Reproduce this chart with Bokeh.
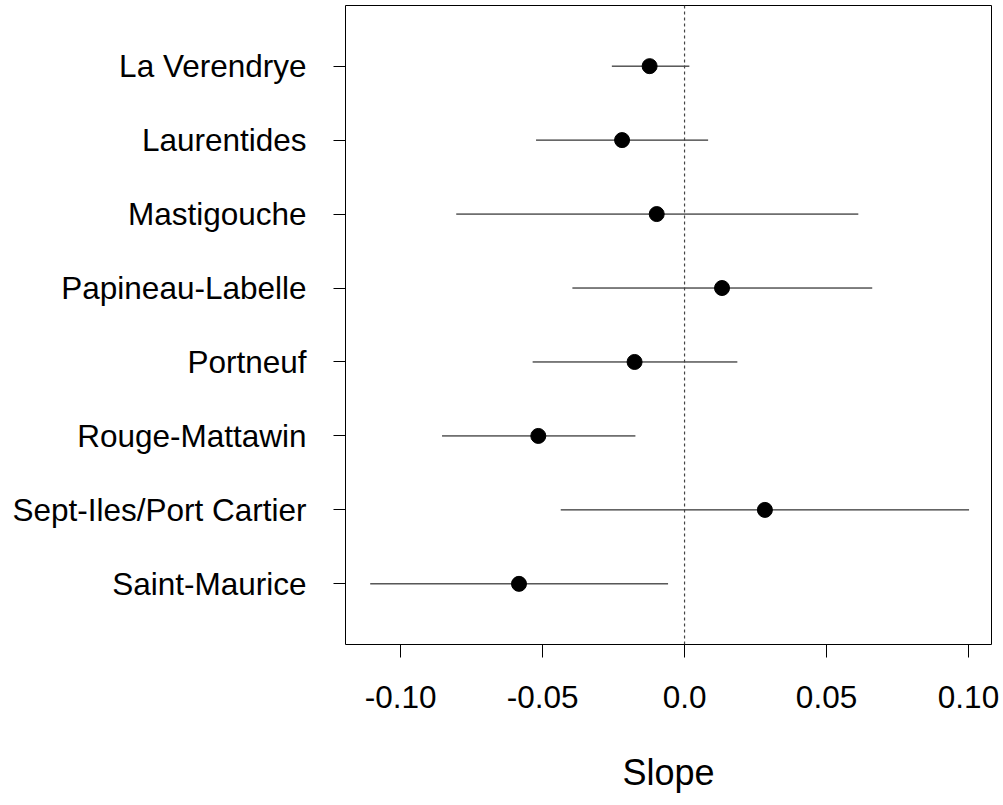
from bokeh.plotting import figure
from bokeh.models import FixedTicker, Span, ColumnDataSource, FactorRange
from bokeh.embed import file_html
from bokeh.resources import INLINE

# Data (bottom to top)
sites = ["Saint-Maurice", "Sept-Iles/Port Cartier", "Rouge-Mattawin", "Portneuf",
         "Papineau-Labelle", "Mastigouche", "Laurentides", "La Verendrye"]
slope = [-0.0583, 0.0283, -0.0515, -0.0176, 0.0132, -0.0098, -0.0220, -0.0123]
lower = [-0.1107, -0.0436, -0.0854, -0.0535, -0.0395, -0.0804, -0.0523, -0.0256]
upper = [-0.0058, 0.1002, -0.0173, 0.0186, 0.0661, 0.0612, 0.0083, 0.0017]

x_ticks = [-0.10, -0.05, 0.0, 0.05, 0.10]
x_tick_labels = ["-0.10", "-0.05", "0.0", "0.05", "0.10"]

src = ColumnDataSource(dict(site=sites, slope=slope, lower=lower, upper=upper))

FONT = "Liberation Sans"

yr = FactorRange(factors=sites, range_padding=0.32, range_padding_units="absolute")
p = figure(width=1003, height=805, output_backend="svg", toolbar_location=None,
           x_range=(-0.1194, 0.1081), y_range=yr,
           min_border_left=345, min_border_right=12, min_border_top=5, min_border_bottom=161)
p.background_fill_color = "white"
p.border_fill_color = "white"
p.outline_line_color = "black"
p.outline_line_width = 1
p.xgrid.visible = False
p.ygrid.visible = False

# zero reference line
p.add_layout(Span(location=0, dimension="height", line_color="#444444",
                  line_width=1.2, line_dash="3 3"))

p.segment(x0="lower", y0="site", x1="upper", y1="site", source=src,
          line_color="black", line_width=1)
p.scatter(x="slope", y="site", source=src, size=15, fill_color="black",
          line_color="black")

# x axis
xa = p.xaxis[0]
xa.ticker = FixedTicker(ticks=x_ticks)
xa.major_label_overrides = dict(zip(x_ticks, x_tick_labels))
xa.minor_tick_line_color = None
xa.major_tick_out = 13
xa.major_tick_in = 0
xa.axis_line_color = None
xa.major_label_standoff = 28
xa.major_label_text_font = FONT
xa.major_label_text_font_size = "31.5px"
xa.major_label_text_color = "black"
xa.axis_label = "Slope"
xa.axis_label_text_font = FONT
xa.axis_label_text_font_size = "36px"
xa.axis_label_text_font_style = "normal"
xa.axis_label_text_color = "black"
xa.axis_label_standoff = 41

# y axis
ya = p.yaxis[0]
ya.major_tick_out = 12
ya.major_tick_in = 0
ya.axis_line_color = None
ya.major_label_standoff = 27
ya.major_label_text_font = FONT
ya.major_label_text_font_size = "31.5px"
ya.major_label_text_color = "black"
ya.group_text_font_size = "0px"

open("out.html", "w").write(file_html(p, INLINE))
